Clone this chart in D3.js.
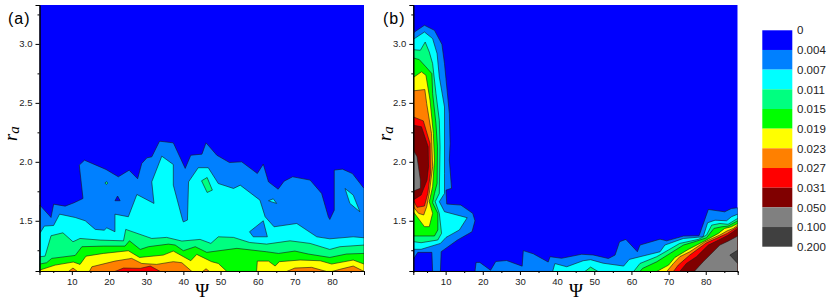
<!DOCTYPE html>
<html>
<head>
<meta charset="utf-8">
<script src="https://cdn.jsdelivr.net/npm/d3@7"></script>
<style>
  html, body { margin: 0; padding: 0; background: #fff; }
  svg { display: block; }
  text { font-family: "Liberation Sans", Arial, sans-serif; fill: #222; }
  .axis path, .axis line { stroke: #000; }
  .contour { stroke: #1a1a1a; stroke-width: 0.6; stroke-linejoin: round; }
</style>
</head>
<body>
<svg width="831" height="301"></svg>
<script>
// contour levels, lowest first
var levelLabels = ["0", "0.004", "0.007", "0.011", "0.015", "0.019", "0.023", "0.027", "0.031", "0.050", "0.100", "0.200"];
var levelColors = ["#0000ff", "#0080ff", "#00ffff", "#00ff80", "#00ff00", "#ffff00", "#ff8000", "#ff0000", "#800000", "#808080", "#404040"];

var psiDomain = [1.3, 88.6];
var raDomain = [1.074, 3.33];
var psiMajor = [10, 20, 30, 40, 50, 60, 70, 80];
var psiMinor = [5, 15, 25, 35, 45, 55, 65, 75, 85];
var raMajor = [1.5, 2.0, 2.5, 3.0];
var raMinor = [1.25, 1.75, 2.25, 2.75, 3.25];

// panel (a): region outlines as [psi, ra]
var aAzure = [[1.3,1.07],[1.4,1.633],[4.4,1.528],[5.1,1.641],[8.2,1.624],[10.6,1.653],[13,1.689],[12,1.972],[13.4,2.014],[19.2,1.935],[22.5,1.873],[25.4,1.929],[27.7,1.856],[28.8,1.986],[30.2,2.034],[31.5,2.042],[33.6,2.175],[37.3,2.161],[40.5,1.944],[42,2.056],[45,2.065],[46.1,2.161],[49,2.056],[52.4,1.994],[55.7,2.0],[59.9,1.901],[61.5,1.98],[62.9,1.83],[65.5,1.768],[67.1,1.836],[69.4,1.873],[74.1,1.845],[77.2,1.732],[79,1.534],[79.4,1.511],[80.6,1.59],[80.6,1.93],[82.8,1.938],[85.5,1.90],[88.6,1.774],[88.6,1.07]];
var aBlueHole = [[21.6,1.67],[22.3,1.71],[23,1.67]];
var aCyan = [[1.3,1.07],[1.4,1.393],[2.6,1.455],[5.1,1.46],[6.7,1.556],[10.9,1.528],[13.6,1.50],[16.3,1.427],[18.7,1.42],[19.4,1.44],[21.6,1.407],[21.6,1.556],[25.2,1.534],[27.5,1.723],[32.1,1.647],[31.5,1.83],[34.2,2.048],[37.3,1.977],[37.3,1.802],[39.8,1.506],[40,1.49],[41.1,1.506],[41.4,1.83],[44,1.95],[46.7,1.95],[49.4,1.816],[53.5,1.774],[55.3,1.802],[60.6,1.675],[62,1.534],[64.4,1.449],[70.5,1.477],[75.9,1.364],[79.4,1.347],[85.7,1.364],[88.6,1.356],[88.6,1.07]];
var aAzureHole = [[57.8,1.407],[61.5,1.5],[62.6,1.364],[58.8,1.364]];
var aCyanIsle1 = [[62.9,1.67],[64.2,1.686],[65.1,1.647],[63.8,1.66]];
var aCyanIsle2 = [[83.5,1.774],[85.7,1.718],[87.5,1.576],[84.8,1.647]];
var aSpring = [[1.3,1.07],[1.4,1.195],[2.8,1.2],[4.4,1.373],[7.6,1.398],[10.3,1.322],[12.2,1.35],[17.6,1.336],[23.9,1.33],[24.5,1.427],[31.5,1.35],[35.5,1.359],[39.6,1.328],[44.5,1.342],[47.4,1.308],[49.4,1.364],[53.5,1.359],[57.8,1.316],[62.4,1.302],[68.7,1.33],[74.1,1.308],[79.4,1.257],[82.1,1.28],[88.6,1.294],[88.6,1.07]];
var aSpringIsle = [[44.9,1.839],[46.4,1.867],[47.8,1.76],[46.4,1.74]];
var aSpringDot = [[18.9,1.82],[19.3,1.832],[19.7,1.82],[19.3,1.808]];
var aGreen = [[1.3,1.07],[1.4,1.133],[3.2,1.144],[4.6,1.181],[10.9,1.206],[12.7,1.28],[18.5,1.285],[24.3,1.285],[25.5,1.33],[28.4,1.257],[30.6,1.28],[36,1.302],[37.8,1.294],[40,1.246],[43.2,1.28],[46.3,1.232],[54.4,1.266],[62.4,1.237],[65.6,1.223],[70,1.243],[73.6,1.218],[79.4,1.189],[83.9,1.218],[88.6,1.223],[88.6,1.07]];
var aYellow1 = [[1.3,1.07],[1.4,1.082],[5.5,1.124],[10.4,1.15],[12.2,1.13],[13.8,1.2],[18.5,1.223],[25.2,1.246],[28.2,1.189],[34.6,1.209],[37.3,1.243],[42,1.161],[43.6,1.215],[47.6,1.153],[49.4,1.138],[51.7,1.07]];
var aYellow2 = [[59.7,1.07],[59.9,1.158],[62.9,1.158],[64.7,1.116],[65.8,1.153],[71.4,1.167],[76.8,1.161],[79.9,1.133],[85.7,1.167],[88.6,1.133],[88.6,1.07]];
var aOrange1 = [[9.1,1.07],[10.3,1.099],[11.5,1.07]];
var aOrange2 = [[14.7,1.07],[15.4,1.11],[21.6,1.158],[26.1,1.181],[28.8,1.138],[32.8,1.13],[37.3,1.153],[39.6,1.144],[42.3,1.07]];
var aOrange3 = [[45.2,1.07],[46.1,1.093],[47,1.07]];
var aOrange4 = [[67.8,1.07],[70,1.099],[74.5,1.105],[78.5,1.07],[80,1.07],[82.1,1.088],[85.7,1.116],[88,1.08],[88.6,1.07]];
var aRed = [[21.6,1.07],[23.9,1.099],[28.4,1.096],[31.1,1.116],[33.8,1.07]];

// panel (b): the bank along the left edge
var bAzureLeft = [[1.3,3.09],[1.6,3.101],[4.3,3.158],[7,3.115],[9,2.997],[9.7,2.833],[11,2.409],[11.2,2.155],[11,2.015],[11.6,1.775],[10.1,1.76],[10.3,1.642],[14.1,1.633],[17.3,1.563],[17.9,1.5],[17.1,1.407],[13.2,1.337],[8.8,1.238],[8.6,1.07],[6.5,1.07],[6.3,1.232],[2.5,1.232],[1.3,1.173]];
var bCyanLeft = [[1.3,3.04],[1.6,3.045],[4.3,3.101],[6.5,3.045],[7.7,2.918],[8.3,2.72],[9.7,2.465],[9.7,1.902],[9.7,1.732],[8.3,1.662],[9.7,1.577],[15.8,1.526],[13.7,1.422],[10.1,1.359],[8.6,1.308],[3.4,1.258],[1.3,1.258]];
var bSpringLeft = [[1.3,2.951],[3.2,2.946],[4.5,3.016],[5.6,2.932],[6.5,2.833],[7.4,2.579],[8.3,2.353],[8.5,2.127],[8.3,1.732],[7.2,1.662],[8.3,1.563],[8.9,1.393],[7.9,1.337],[3.4,1.314],[1.3,1.323]];
var bGreenLeft = [[1.3,2.881],[2.9,2.867],[4.7,2.805],[6.3,2.748],[6.5,2.579],[7.4,2.324],[7.8,2.127],[7.7,1.817],[7,1.732],[6.5,1.653],[7.9,1.563],[7.9,1.422],[7,1.371],[1.3,1.371]];
var bYellowLeft = [[1.3,2.715],[3.5,2.763],[4.7,2.734],[5.8,2.523],[6.7,2.24],[7,2.015],[6.5,1.789],[5.6,1.662],[6.5,1.563],[5.6,1.45],[4.3,1.45],[1.3,1.577]];
var bOrangeLeft = [[1.3,2.602],[4.4,2.613],[4.9,2.494],[6.2,2.24],[6.5,1.958],[5.6,1.732],[4.9,1.619],[4.1,1.549],[2.7,1.563],[1.3,1.619]];
var bRedLeft = [[1.3,2.381],[4,2.347],[5.8,2.155],[5.9,1.902],[5.2,1.732],[4.3,1.625],[2.3,1.614],[1.3,1.676]];
var bDarkLeft = [[1.3,2.311],[3.5,2.297],[5.3,2.127],[5.4,1.958],[5,1.845],[3.4,1.718],[1.3,1.676]];
var bGrayLeft = [[1.3,2.1],[2.3,2.043],[3.2,1.845],[3.2,1.775],[1.3,1.752]];

// panel (b): the ridge along the bottom right
var bAzureRight = [[17.9,1.07],[18.2,1.147],[19.2,1.147],[22.1,1.08],[23.5,1.155],[26.4,1.163],[30.6,1.115],[30.9,1.247],[33.6,1.22],[37.6,1.15],[38.1,1.195],[41.2,1.182],[46.6,1.216],[49.7,1.21],[53.8,1.18],[55.6,1.209],[56.8,1.322],[58.5,1.342],[61.6,1.237],[62.3,1.294],[67.7,1.344],[69.5,1.33],[74,1.37],[78.2,1.373],[80.7,1.596],[85.1,1.576],[86.9,1.604],[88.6,1.61],[88.6,1.07]];
var bCyanRight = [[38.8,1.07],[39.4,1.137],[42.6,1.11],[47,1.161],[49,1.17],[52.4,1.14],[57.9,1.116],[59.4,1.172],[62.3,1.195],[67.7,1.237],[69,1.294],[74,1.35],[79.3,1.364],[80.5,1.483],[82.5,1.505],[85.6,1.5],[86.9,1.534],[88.6,1.556],[88.6,1.07]];
var bSpringBump = [[47.5,1.07],[49,1.107],[51,1.07]];
var bSpringRight = [[60.6,1.07],[62.3,1.138],[66.8,1.195],[69.9,1.251],[73,1.308],[78,1.342],[80.2,1.378],[81.6,1.463],[83.8,1.477],[86,1.47],[88.6,1.52],[88.6,1.07]];
var bGreenRight = [[62.3,1.07],[63,1.096],[66.8,1.152],[70.4,1.223],[74,1.294],[77.5,1.327],[80.2,1.356],[82.2,1.435],[84.3,1.449],[86,1.455],[88.6,1.5],[88.6,1.07]];
var bYellowRight = [[66.8,1.07],[70,1.124],[71.7,1.189],[75.3,1.257],[79.3,1.322],[83.4,1.393],[85.1,1.435],[86.9,1.449],[88.6,1.477],[88.6,1.07]];
var bOrangeRight = [[69.5,1.07],[71.3,1.138],[73,1.195],[75.7,1.237],[79.8,1.322],[83.8,1.379],[85.8,1.415],[87.4,1.435],[88.6,1.463],[88.6,1.07]];
var bRedRight = [[71.3,1.07],[72.6,1.124],[75.7,1.209],[80.2,1.313],[83.8,1.364],[85.8,1.393],[88.6,1.449],[88.6,1.07]];
var bDarkRight = [[73,1.07],[74.8,1.138],[77.5,1.195],[80.7,1.294],[83.8,1.342],[86,1.378],[88.6,1.435],[88.6,1.07]];
var bGrayRight = [[76.9,1.07],[79.3,1.152],[83.8,1.294],[86,1.327],[88.6,1.37],[88.6,1.07]];
var bCharcoal = [[86.5,1.209],[88.6,1.251],[88.6,1.138]];

// draw order for each panel: level index, outline
var regionsA = [[1,aAzure],[0,aBlueHole],[2,aCyan],[1,aAzureHole],[2,aCyanIsle1],[2,aCyanIsle2],[3,aSpring],[3,aSpringIsle],[3,aSpringDot],[4,aGreen],[5,aYellow1],[5,aYellow2],[6,aOrange1],[6,aOrange2],[6,aOrange3],[6,aOrange4],[7,aRed]];
var regionsB = [[1,bAzureLeft],[2,bCyanLeft],[3,bSpringLeft],[4,bGreenLeft],[5,bYellowLeft],[6,bOrangeLeft],[7,bRedLeft],[8,bDarkLeft],[9,bGrayLeft],
                [1,bAzureRight],[2,bCyanRight],[3,bSpringBump],[3,bSpringRight],[4,bGreenRight],[5,bYellowRight],[6,bOrangeRight],[7,bRedRight],[8,bDarkRight],[9,bGrayRight],[10,bCharcoal]];

var svg = d3.select("svg");
var top_ = 5, bottom_ = 271;

function drawPanel(left, right, regions, label, labelX, raX, clipId) {
    var x = d3.scaleLinear().domain(psiDomain).range([left, right]);
    var y = d3.scaleLinear().domain(raDomain).range([bottom_, top_]);
    var line = d3.line()
        .x(function(d) { return x(d[0]); })
        .y(function(d) { return y(d[1]); });

    svg.append("defs").append("clipPath").attr("id", clipId)
      .append("rect")
        .attr("x", left).attr("y", top_)
        .attr("width", right - left).attr("height", bottom_ - top_);

    var g = svg.append("g").attr("clip-path", "url(#" + clipId + ")");
    g.append("rect")
        .attr("x", x(psiDomain[0])).attr("y", y(raDomain[1]))
        .attr("width", x(psiDomain[1]) - x(psiDomain[0]))
        .attr("height", y(raDomain[0]) - y(raDomain[1]))
        .attr("fill", levelColors[0]);

    g.selectAll("path.contour").data(regions).enter().append("path")
        .attr("class", "contour")
        .attr("d", function(d) { return line(d[1]) + "Z"; })
        .attr("fill", function(d) { return levelColors[d[0]]; });

    var xMajor = d3.axisBottom(x).tickValues(psiMajor).tickSize(4).tickPadding(3);
    var xMinor = d3.axisBottom(x).tickValues(psiMinor).tickSize(2).tickFormat("");
    var yMajor = d3.axisLeft(y).tickValues(raMajor).tickSize(4).tickPadding(3).tickFormat(d3.format(".1f"));
    var yMinor = d3.axisLeft(y).tickValues(raMinor).tickSize(2).tickFormat("");

    [[xMajor, "translate(0," + bottom_ + ")"], [xMinor, "translate(0," + bottom_ + ")"],
     [yMajor, "translate(" + left + ",0)"], [yMinor, "translate(" + left + ",0)"]].forEach(function(a) {
        var ax = svg.append("g").attr("class", "axis")
            .attr("transform", a[1])
            .call(a[0]);
        ax.selectAll("path").attr("stroke-width", 1);
        ax.selectAll("text").style("font-size", "9.5px");
    });

    svg.append("text")
        .attr("x", (left + right) / 2 + 0.5).attr("y", 296.5)
        .attr("text-anchor", "middle")
        .style("font-family", "'Liberation Serif', serif")
        .style("font-size", "19px").style("fill", "#000")
        .text("\u03A8");

    var ra = svg.append("text")
        .attr("transform", "translate(" + raX + ",141) rotate(-90)")
        .style("font-family", "'Liberation Serif', serif")
        .style("font-style", "italic")
        .style("fill", "#000")
        .style("font-size", "18.5px");
    ra.append("tspan").text("r");
    ra.append("tspan").attr("dy", 2).style("font-size", "15px").text("a");

    svg.append("text")
        .attr("x", labelX).attr("y", 24)
        .style("font-size", "16px").style("letter-spacing", "1px").style("fill", "#000")
        .text(label);
}

drawPanel(39.5, 364, regionsA, "(a)", 8, 16.5, "clipA");
drawPanel(413.3, 737.7, regionsB, "(b)", 383, 391, "clipB");

// colour key
var keyY = d3.scaleLinear().domain([0, levelColors.length]).range([30.3, 246.7]);
svg.selectAll("rect.key").data(levelColors).enter().append("rect")
    .attr("class", "key")
    .attr("x", 762.3).attr("width", 30)
    .attr("y", function(d, i) { return keyY(i); })
    .attr("height", function(d, i) { return keyY(i + 1) - keyY(i); })
    .attr("fill", function(d) { return d; });

var keyAxis = svg.append("g")
    .attr("transform", "translate(797,0)")
    .call(d3.axisRight(keyY)
        .tickValues(d3.range(levelLabels.length))
        .tickSize(0).tickPadding(0)
        .tickFormat(function(i) { return levelLabels[i]; }));
keyAxis.select("path").remove();
keyAxis.selectAll("text").style("font-size", "11.5px");
</script>
</body>
</html>
